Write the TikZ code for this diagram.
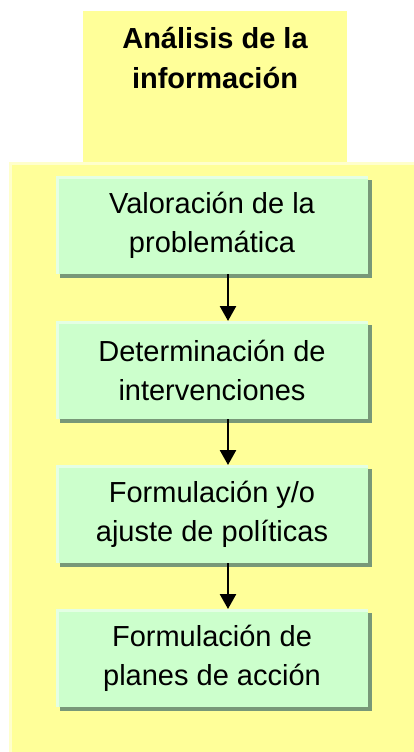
\documentclass[tikz,border=0pt]{standalone}
\usepackage{fontspec}
\setmainfont{Liberation Sans}
\usetikzlibrary{arrows.meta}
\definecolor{ylw}{HTML}{FFFF99}
\definecolor{ylwhl}{HTML}{FFFFCC}
\definecolor{grn}{HTML}{CCFFCC}
\definecolor{grnhl}{HTML}{E4FFE4}
\definecolor{shd}{HTML}{789878}
\tikzset{
  hledge/.style={path picture={
    \fill[#1] (path picture bounding box.north west) rectangle ([yshift=-3pt]path picture bounding box.north east);
    \fill[#1] (path picture bounding box.north west) rectangle ([xshift=3pt]path picture bounding box.south west);}},
  panel/.style={draw=none, fill=ylw, inner sep=0pt, outer sep=0pt},
  stepbox/.style={draw=none, fill=grn, hledge=grnhl, inner sep=0pt, outer sep=0pt,
    minimum width=312pt, minimum height=98pt, align=center,
    font=\fontsize{29}{39}\selectfont,
    preaction={fill=shd, transform canvas={xshift=4pt,yshift=-4pt}}},
  titletext/.style={align=center, inner sep=0pt, font=\bfseries\fontsize{29}{40}\selectfont},
  flow/.style={line width=2.6pt, -{Triangle[width=16pt,length=15pt]}}
}
\begin{document}
\begin{tikzpicture}[x=1pt,y=-1pt]
\useasboundingbox (0,0) rectangle (414,752);
\node[panel, minimum width=264pt, minimum height=151pt, anchor=north west] (top) at (83,11) {};
\node[panel, hledge=ylwhl, minimum width=405pt, minimum height=590pt, anchor=north west] (main) at (9,162) {};
\node[titletext] (title) at (215,58) {Análisis de la\\información};
\node[stepbox, anchor=north west] (b1) at (56,176) {Valoración de la\\problemática};
\node[stepbox, anchor=north west] (b2) at (56,321) {Determinación de\\intervenciones};
\node[stepbox, anchor=north west] (b3) at (56,465) {Formulación y/o\\ajuste de políticas};
\node[stepbox, anchor=north west] (b4) at (56,609) {Formulación de\\planes de acción};
\coordinate (ax) at (228,0);
\draw[flow] (b1.south -| ax) -- (b2.north -| ax);
\draw[flow] (b2.south -| ax) -- (b3.north -| ax);
\draw[flow] (b3.south -| ax) -- (b4.north -| ax);
\end{tikzpicture}
\end{document}
